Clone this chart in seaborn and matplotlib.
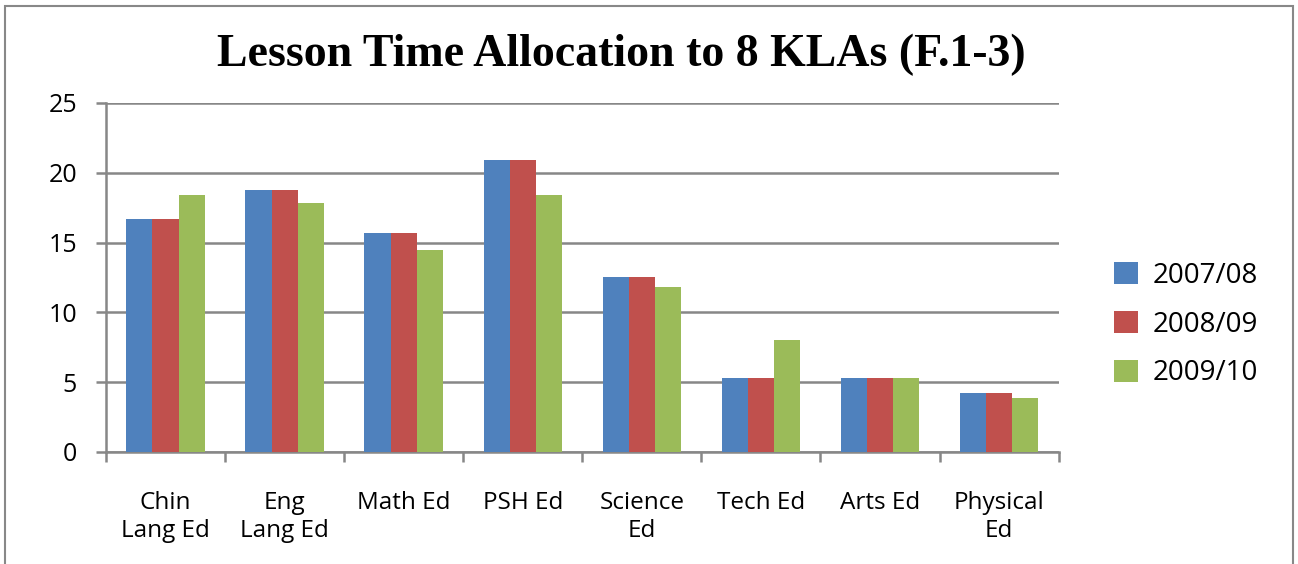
import pandas as pd
import matplotlib.pyplot as plt
import seaborn as sns
from matplotlib.patches import Rectangle

# Values
subjects = ["Chin\nLang Ed", "Eng\nLang Ed", "Math Ed", "PSH Ed",
            "Science\nEd", "Tech Ed", "Arts Ed", "Physical\nEd"]
years = ["2007/08", "2008/09", "2009/10"]
y2007 = [16.7, 18.8, 15.7, 20.9, 12.5, 5.3, 5.3, 4.2]
y2008 = [16.7, 18.8, 15.7, 20.9, 12.5, 5.3, 5.3, 4.2]
y2009 = [18.4, 17.8, 14.5, 18.4, 11.8, 8.0, 5.3, 3.9]
colors = ["#4F81BD", "#C0504D", "#9BBB59"]

df = pd.DataFrame({
    "subject": subjects * 3,
    "year": [years[0]] * 8 + [years[1]] * 8 + [years[2]] * 8,
    "hours": y2007 + y2008 + y2009,
})

sns.set_style("white")
plt.rcParams['font.family'] = ['Open Sans', 'DejaVu Sans']
plt.rcParams['text.color'] = 'black'
plt.rcParams['xtick.labelcolor'] = 'black'
plt.rcParams['ytick.labelcolor'] = 'black'

fig = plt.figure(figsize=(12.98, 5.64), dpi=100)
ax = fig.add_axes([0.0817, 0.1986, 0.7339, 0.6188])

sns.barplot(data=df, x="subject", y="hours", hue="year", palette=colors,
            width=0.66, saturation=1, ax=ax, zorder=3, linewidth=0)

grid_col = "#878787"
ax.set_ylim(0, 25)
ax.set_xlim(-0.5, 7.5)
ax.set_yticks([0, 5, 10, 15, 20, 25])
ax.yaxis.grid(True, color=grid_col, linewidth=1.8, zorder=0)
ax.set_axisbelow(True)
for s in ["top", "right"]:
    ax.spines[s].set_visible(False)
for s in ["left", "bottom"]:
    ax.spines[s].set_color(grid_col)
    ax.spines[s].set_linewidth(1.8)

ax.set_xticks(range(8))
ax.set_xticklabels(subjects, fontsize=17.5, linespacing=1.25)
ax.set_xticks([i - 0.5 for i in range(9)], minor=True)
ax.tick_params(axis="x", which="major", length=0, pad=28)
ax.tick_params(axis="x", which="minor", length=7, width=1.8, color=grid_col, direction="out", bottom=True)
ax.tick_params(axis="y", length=7, width=1.8, color=grid_col, direction="out", left=True,
               labelsize=18, pad=14)
ax.set_xlabel("")
ax.set_ylabel("")

fig.suptitle("Lesson Time Allocation to 8 KLAs (F.1-3)", x=0.479, y=0.94,
             fontsize=33, fontweight="bold", family="Liberation Serif", color="black")

leg = ax.legend(loc="center left", bbox_to_anchor=(1.032, 0.365), frameon=False,
                fontsize=20, handlelength=0.85, handleheight=0.85, labelspacing=0.75,
                handletextpad=0.55)

# outer chart frame
fig.patches.append(Rectangle((0.004, -0.01), 0.992, 1.0, transform=fig.transFigure,
                             fill=False, edgecolor="#888888", linewidth=1.5))

fig.savefig("out.png", dpi=100)
